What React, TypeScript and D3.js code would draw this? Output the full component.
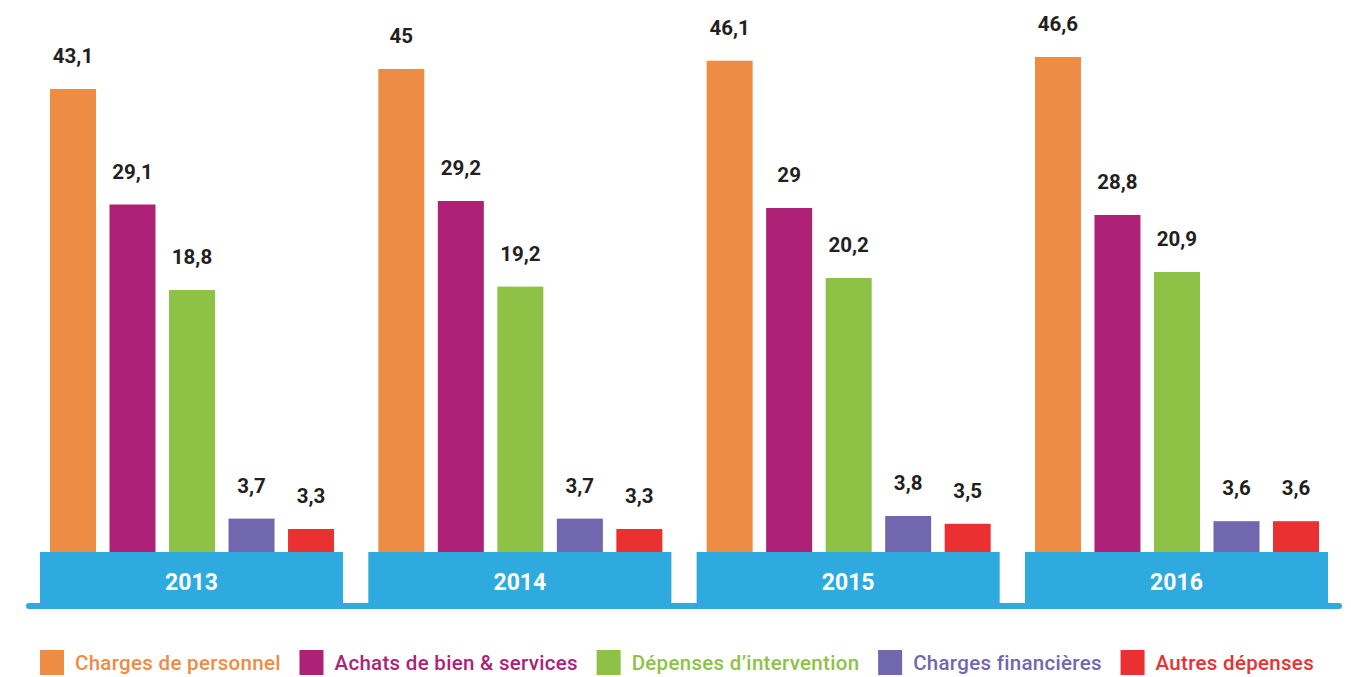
import { useEffect, useRef } from "react"
import * as d3 from "d3"

const years = ["2013", "2014", "2015", "2016"]

const seriesNames = [
  "Charges de personnel",
  "Achats de bien & services",
  "Dépenses d’intervention",
  "Charges financières",
  "Autres dépenses",
]

const personnel = [43.1, 45, 46.1, 46.6]
const achats = [29.1, 29.2, 29, 28.8]
const intervention = [18.8, 19.2, 20.2, 20.9]
const financieres = [3.7, 3.7, 3.8, 3.6]
const autres = [3.3, 3.3, 3.5, 3.6]

const seriesValues = [personnel, achats, intervention, financieres, autres]

const COLORS = ["#ed8c45", "#ad2276", "#8dc247", "#7167ae", "#ea3030"]
const BLUE = "#2eaade"
const LABEL = "#231f20"

const WIDTH = 1351
const HEIGHT = 677

export default function App() {
  const svgRef = useRef<SVGSVGElement>(null)

  useEffect(() => {
    if (!svgRef.current) return
    document.body.style.margin = "0"

    const svg = d3.select(svgRef.current)
    svg.selectAll("*").remove()

    const baseY = 552
    const lineY = 606

    // échelles
    const x0 = d3.scaleBand<string>().domain(years).range([40, 1328]).paddingInner(0.077)
    const x1 = d3
      .scaleBand<string>()
      .domain(seriesNames)
      .range([10, x0.bandwidth() - 9])
      .paddingInner(0.227)

    // l'infographie d'origine n'est pas à l'échelle : échelle polylinéaire
    const y = d3
      .scaleLinear()
      .domain([0, 3.3, 3.8, 18.8, 20.9, 28.8, 29.2, 43.1, 45, 46.6])
      .range([baseY, 529, 516, 290, 272, 215, 201, 89, 69, 57])

    const fmt = d3.formatLocale({
      decimal: ",",
      thousands: " ",
      grouping: [3],
      currency: ["", "€"],
    }).format("~g")

    const font = "Roboto, 'DejaVu Sans', sans-serif"

    // barres
    const groups = svg
      .selectAll("g.year")
      .data(years)
      .enter()
      .append("g")
      .attr("class", "year")
      .attr("transform", (d) => `translate(${x0(d)},0)`)

    seriesNames.forEach((name, si) => {
      groups
        .append("rect")
        .attr("x", x1(name)!)
        .attr("width", x1.bandwidth())
        .attr("y", (_d, i) => y(seriesValues[si][i]))
        .attr("height", (_d, i) => baseY - y(seriesValues[si][i]))
        .attr("fill", COLORS[si])

      groups
        .append("text")
        .attr("x", x1(name)! + x1.bandwidth() / 2)
        .attr("y", (_d, i) => y(seriesValues[si][i]) - 26)
        .attr("text-anchor", "middle")
        .attr("font-family", font)
        .attr("font-weight", 700)
        .attr("font-size", 20.5)
        .attr("fill", LABEL)
        .text((_d, i) => fmt(seriesValues[si][i]))
    })

    // ligne de base
    svg
      .append("line")
      .attr("x1", 29)
      .attr("x2", 1339)
      .attr("y1", lineY)
      .attr("y2", lineY)
      .attr("stroke", BLUE)
      .attr("stroke-width", 6)
      .attr("stroke-linecap", "round")

    // boîtes des années
    groups
      .append("rect")
      .attr("x", 0)
      .attr("y", baseY)
      .attr("width", x0.bandwidth())
      .attr("height", lineY - baseY)
      .attr("fill", BLUE)

    groups
      .append("text")
      .attr("x", x0.bandwidth() / 2)
      .attr("y", 590)
      .attr("text-anchor", "middle")
      .attr("font-family", font)
      .attr("font-weight", 700)
      .attr("font-size", 23)
      .attr("fill", "#ffffff")
      .text((d) => d)

    // légende
    const legend = svg.append("g")
    const sq = 24
    const pad = 11
    const items = seriesNames.map((name, i) => {
      const g = legend.append("g")
      g.append("rect")
        .attr("x", 0)
        .attr("y", 650)
        .attr("width", sq)
        .attr("height", 25)
        .attr("fill", COLORS[i])
      const t = g
        .append("text")
        .attr("x", sq + pad)
        .attr("y", 670)
        .attr("font-family", font)
        .attr("font-weight", 500)
        .attr("font-size", 20.5)
        .attr("letter-spacing", 0.3)
        .attr("fill", COLORS[i])
        .text(name)
      const w = (t.node() as SVGTextElement).getComputedTextLength()
      return { g, w: sq + pad + w }
    })
    const left = 40
    const right = 1314
    const total = d3.sum(items, (d) => d.w)
    const gap = (right - left - total) / (items.length - 1)
    let cx = left
    items.forEach((it) => {
      it.g.attr("transform", `translate(${cx},0)`)
      cx += it.w + gap
    })
  }, [])

  return (
    <svg
      ref={svgRef}
      width={WIDTH}
      height={HEIGHT}
      style={{ display: "block", background: "#ffffff" }}
    />
  )
}
